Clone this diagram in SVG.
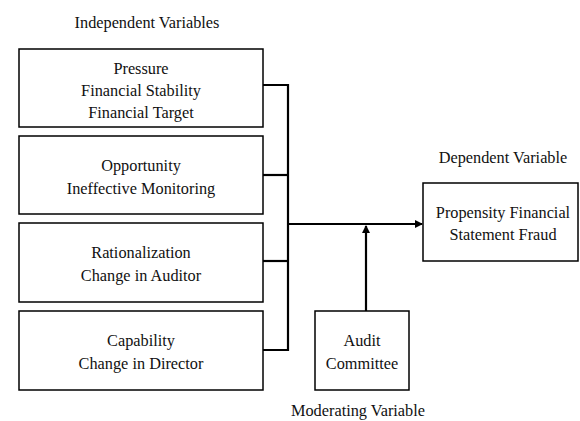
<svg xmlns="http://www.w3.org/2000/svg" width="580" height="421" viewBox="0 0 580 421">
<style>
.box{fill:#fff;stroke:#000;stroke-width:1.5}
.t{font-family:'Liberation Serif','Times New Roman',serif;font-size:16.3px;fill:#111;text-anchor:middle}
.c{fill:none;stroke:#000;stroke-width:2.2}
</style>
<defs>
<marker id="ah" markerWidth="8" markerHeight="8" refX="7" refY="4" orient="auto" markerUnits="userSpaceOnUse">
<path d="M0,0 L8,4 L0,8 Z" fill="#000"/>
</marker>
</defs>
<rect width="580" height="421" fill="#fff"/>
<text class="t" x="147" y="28">Independent Variables</text>
<text class="t" x="503" y="163">Dependent Variable</text>
<text class="t" x="358" y="416">Moderating Variable</text>
<g id="pressure">
<rect class="box" x="19" y="49" width="244" height="78"/>
<text class="t" x="141" y="74">Pressure</text>
<text class="t" x="141" y="96">Financial Stability</text>
<text class="t" x="141" y="118">Financial Target</text>
</g>
<g id="opportunity">
<rect class="box" x="19" y="136" width="244" height="78"/>
<text class="t" x="141" y="171">Opportunity</text>
<text class="t" x="141" y="194">Ineffective Monitoring</text>
</g>
<g id="rationalization">
<rect class="box" x="19" y="223" width="244" height="79"/>
<text class="t" x="141" y="258">Rationalization</text>
<text class="t" x="141" y="281">Change in Auditor</text>
</g>
<g id="capability">
<rect class="box" x="19" y="311" width="244" height="79"/>
<text class="t" x="141" y="346">Capability</text>
<text class="t" x="141" y="369">Change in Director</text>
</g>
<g id="dependent">
<rect class="box" x="423" y="183" width="155" height="78"/>
<text class="t" x="503" y="218">Propensity Financial</text>
<text class="t" x="503" y="240">Statement Fraud</text>
</g>
<g id="audit">
<rect class="box" x="315" y="311" width="94" height="79"/>
<text class="t" x="362" y="346">Audit</text>
<text class="t" x="362" y="369">Committee</text>
</g>
<g id="connectors">
<path class="c" d="M263,85 H288 V350 H263"/>
<path class="c" d="M263,175 H288"/>
<path class="c" d="M263,261 H288"/>
<path class="c" d="M288,224 H422" marker-end="url(#ah)"/>
<path class="c" d="M366,311 V226" marker-end="url(#ah)"/>
</g>
</svg>
